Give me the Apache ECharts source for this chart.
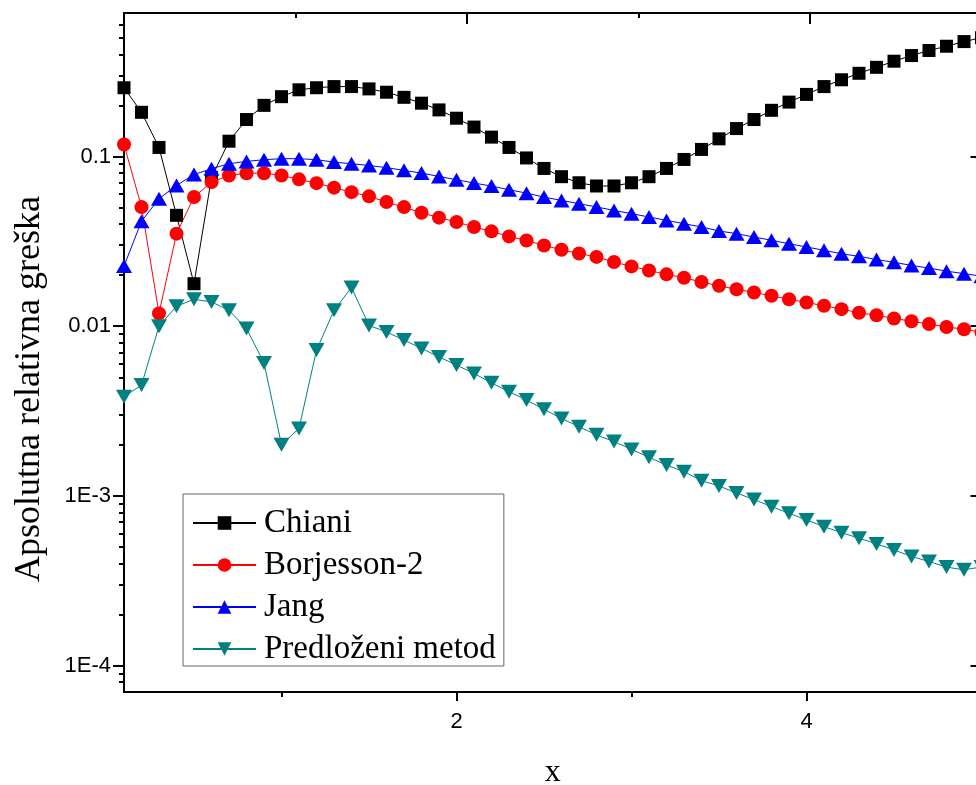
<!DOCTYPE html>
<html>
<head>
<meta charset="utf-8">
<title>Apsolutna relativna greška</title>
<script src="https://cdn.jsdelivr.net/npm/echarts@6.0.0/dist/echarts.min.js"></script>
<style>
  html, body { margin: 0; padding: 0; background: #fff; }
  #chart { width: 976px; height: 785px; }
</style>
</head>
<body>
<div id="chart"></div>
<script>
// x values (0.1 … 5.0)
const xValues = [0.1, 0.2, 0.3, 0.4, 0.5, 0.6, 0.7, 0.8, 0.9, 1.0,
  1.1, 1.2, 1.3, 1.4, 1.5, 1.6, 1.7, 1.8, 1.9, 2.0,
  2.1, 2.2, 2.3, 2.4, 2.5, 2.6, 2.7, 2.8, 2.9, 3.0,
  3.1, 3.2, 3.3, 3.4, 3.5, 3.6, 3.7, 3.8, 3.9, 4.0,
  4.1, 4.2, 4.3, 4.4, 4.5, 4.6, 4.7, 4.8, 4.9, 5.0];

const chiani = [0.254, 0.182, 0.113, 0.045, 0.0178, 0.075, 0.123, 0.165, 0.200, 0.225,
  0.247, 0.254, 0.258, 0.258, 0.250, 0.239, 0.223, 0.206, 0.188, 0.168,
  0.149, 0.130, 0.113, 0.098, 0.085, 0.076, 0.070, 0.067, 0.067, 0.070,
  0.076, 0.085, 0.096, 0.110, 0.127, 0.146, 0.165, 0.187, 0.209, 0.232,
  0.258, 0.283, 0.309, 0.335, 0.364, 0.393, 0.421, 0.446, 0.475, 0.501];

const borjesson2 = [0.1177, 0.0503, 0.0119, 0.0351, 0.0577, 0.0706, 0.0773, 0.0797, 0.0797, 0.0773,
  0.0733, 0.0696, 0.0655, 0.0616, 0.0582, 0.0539, 0.0503, 0.0466, 0.0436, 0.0411,
  0.0384, 0.0362, 0.0338, 0.0320, 0.0299, 0.0282, 0.0268, 0.0256, 0.0239, 0.0225,
  0.0213, 0.0202, 0.0193, 0.0182, 0.0173, 0.0165, 0.0158, 0.0151, 0.0144, 0.0138,
  0.0132, 0.0126, 0.0120, 0.0116, 0.0111, 0.0107, 0.0103, 0.0099, 0.0096, 0.0092];

const jang = [0.0226, 0.0415, 0.0564, 0.0675, 0.0783, 0.0847, 0.0906, 0.0935, 0.0957, 0.0970,
  0.0970, 0.0957, 0.0926, 0.0906, 0.0885, 0.0859, 0.0828, 0.0798, 0.0763, 0.0729,
  0.0697, 0.0669, 0.0637, 0.0608, 0.0576, 0.0551, 0.0527, 0.0504, 0.0481, 0.0460,
  0.0440, 0.0420, 0.0402, 0.0384, 0.0364, 0.0351, 0.0335, 0.0321, 0.0306, 0.0293,
  0.0280, 0.0267, 0.0258, 0.0247, 0.0238, 0.0228, 0.0220, 0.0211, 0.0204, 0.0197];

const predlozeni = [0.00384, 0.00450, 0.0100, 0.0131, 0.0144, 0.0139, 0.0124, 0.00968, 0.00608, 0.00200,
  0.00250, 0.00723, 0.0124, 0.0169, 0.0101, 0.00925, 0.00828, 0.00740, 0.00659, 0.00590,
  0.00527, 0.00464, 0.00411, 0.00367, 0.00324, 0.00286, 0.00256, 0.00229, 0.00209, 0.00188,
  0.00169, 0.00152, 0.00139, 0.00123, 0.001145, 0.00104, 0.000953, 0.000865, 0.000791, 0.000722,
  0.000659, 0.000608, 0.000564, 0.000522, 0.000481, 0.000440, 0.000411, 0.000381, 0.000367, 0.000382];

// axis ticks
const xMajorTicks = [2, 4];
const xMinorTicks = [1, 3];
const yMajorTicks = [1e-4, 1e-3, 1e-2, 0.1];
const yMinorTicks = [8e-5, 9e-5,
  2e-4, 3e-4, 4e-4, 5e-4, 6e-4, 7e-4, 8e-4, 9e-4,
  2e-3, 3e-3, 4e-3, 5e-3, 6e-3, 7e-3, 8e-3, 9e-3,
  0.02, 0.03, 0.04, 0.05, 0.06, 0.07, 0.08, 0.09,
  0.2, 0.3, 0.4, 0.5, 0.6];
const yTickText = { '-1': '0.1', '-2': '0.01', '-3': '1E-3', '-4': '1E-4' };

const sansFont = '"Liberation Sans", Arial, sans-serif';
const serifFont = '"Liberation Serif", "Times New Roman", serif';

const pairs = (ys) => xValues.map((x, i) => [x, ys[i]]);

const black = '#000000';
const axisLine = { show: true, onZero: false, lineStyle: { color: black, width: 2 } };
const hidden = { show: false };

const xBase = { type: 'value', min: 0.1, max: 5, splitLine: hidden, gridIndex: 0 };
const yBase = { type: 'log', logBase: 10, min: 7e-5, max: 0.7, splitLine: hidden, gridIndex: 0 };

const chart = echarts.init(document.getElementById('chart'), null, { renderer: 'canvas' });

chart.setOption({
  animation: false,
  backgroundColor: '#ffffff',
  grid: { left: 124, top: 13, width: 857.5, height: 679, containLabel: false, outerBoundsMode: 'none' },
  xAxis: [
    Object.assign({}, xBase, {
      position: 'bottom',
      axisLine: axisLine,
      axisTick: { show: true, inside: false, length: 9, customValues: xMajorTicks, lineStyle: { color: black, width: 2 } },
      axisLabel: { show: true, customValues: xMajorTicks, margin: 19, fontSize: 22, fontFamily: sansFont, color: black },
      name: 'x', nameLocation: 'middle', nameGap: 65,
      nameTextStyle: { fontFamily: serifFont, fontSize: 32, color: black }
    }),
    Object.assign({}, xBase, {
      position: 'bottom',
      axisLine: hidden,
      axisTick: { show: true, inside: false, length: 5, customValues: xMinorTicks, lineStyle: { color: black, width: 2 } },
      axisLabel: hidden
    }),
    Object.assign({}, xBase, {
      min: 0, max: 5,
      position: 'top',
      axisLine: axisLine,
      axisTick: { show: true, inside: true, length: 11, customValues: xMajorTicks, lineStyle: { color: black, width: 2 } },
      axisLabel: hidden
    }),
    Object.assign({}, xBase, {
      min: 0, max: 5,
      position: 'top',
      axisLine: hidden,
      axisTick: { show: true, inside: true, length: 5, customValues: xMinorTicks, lineStyle: { color: black, width: 2 } },
      axisLabel: hidden
    })
  ],
  yAxis: [
    Object.assign({}, yBase, {
      position: 'left',
      axisLine: axisLine,
      axisTick: { show: true, inside: false, length: 11, customValues: yMajorTicks, lineStyle: { color: black, width: 2 } },
      axisLabel: {
        show: true, customValues: yMajorTicks, margin: 13, fontSize: 22, fontFamily: sansFont, color: black,
        formatter: (v) => yTickText[String(Math.round(Math.log10(v)))] || ''
      },
      name: 'Apsolutna relativna greška', nameLocation: 'middle', nameGap: 76,
      nameTextStyle: { fontFamily: serifFont, fontSize: 36, color: black, padding: [0, 73, 0, 0] }
    }),
    Object.assign({}, yBase, {
      position: 'left',
      axisLine: hidden,
      axisTick: { show: true, inside: false, length: 5, customValues: yMinorTicks, lineStyle: { color: black, width: 2 } },
      axisLabel: hidden
    }),
    Object.assign({}, yBase, {
      position: 'right',
      axisLine: axisLine,
      axisTick: { show: true, inside: true, length: 11, customValues: yMajorTicks, lineStyle: { color: black, width: 2 } },
      axisLabel: hidden
    })
  ],
  legend: {
    orient: 'vertical',
    left: 183, top: 494,
    padding: [12.5, 8, 0.5, 9],
    itemWidth: 63, itemHeight: 17, itemGap: 9,
    backgroundColor: '#ffffff',
    borderColor: '#666666', borderWidth: 1, borderRadius: 0,
    textStyle: { fontFamily: serifFont, fontSize: 33, lineHeight: 33, color: black, padding: [0, 0, 0, 3] },
    data: ['Chiani', 'Borjesson-2', 'Jang', 'Predloženi metod']
  },
  series: [
    {
      name: 'Chiani', type: 'line', xAxisIndex: 0, yAxisIndex: 0,
      data: pairs(chiani),
      symbol: 'rect', symbolSize: 13,
      lineStyle: { color: '#000000', width: 1 },
      itemStyle: { color: '#000000' }
    },
    {
      name: 'Borjesson-2', type: 'line', xAxisIndex: 0, yAxisIndex: 0,
      data: pairs(borjesson2),
      symbol: 'circle', symbolSize: 14,
      lineStyle: { color: '#ff0000', width: 1 },
      itemStyle: { color: '#ff0000' }
    },
    {
      name: 'Jang', type: 'line', xAxisIndex: 0, yAxisIndex: 0,
      data: pairs(jang),
      symbol: 'triangle', symbolSize: [16, 14],
      lineStyle: { color: '#0000ff', width: 1 },
      itemStyle: { color: '#0000ff' }
    },
    {
      name: 'Predloženi metod', type: 'line', xAxisIndex: 0, yAxisIndex: 0,
      data: pairs(predlozeni),
      symbol: 'triangle', symbolRotate: 180, symbolSize: [16, 14],
      lineStyle: { color: '#008080', width: 1 },
      itemStyle: { color: '#008080' }
    }
  ]
});
</script>
</body>
</html>
